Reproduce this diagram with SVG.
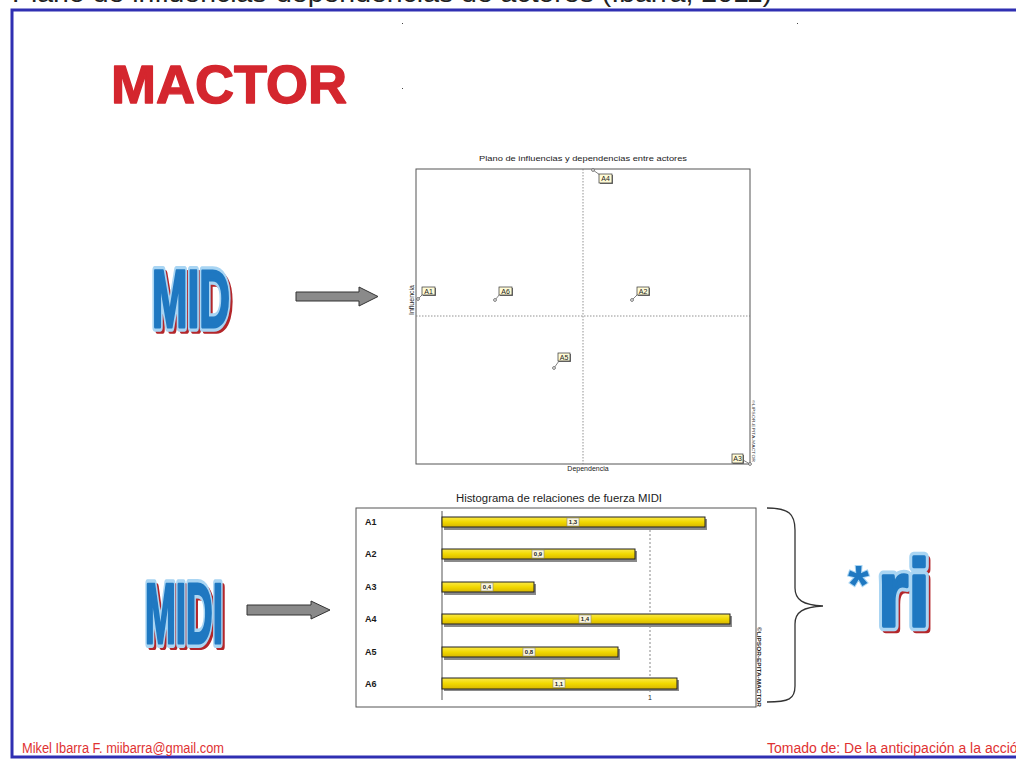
<svg xmlns="http://www.w3.org/2000/svg" xmlns:xlink="http://www.w3.org/1999/xlink" width="1016" height="761" viewBox="0 0 1016 761">
  <style>
    .sans { font-family: "Liberation Sans", Arial, sans-serif; }
    .narrow { font-family: "Liberation Sans Narrow", "Liberation Sans", Arial, sans-serif; }
    .frame { fill: none; stroke: #2f2fb2; stroke-width: 3; }
    .title-red { fill: #d4262e; stroke: #d4262e; stroke-width: 1.4; stroke-linejoin: round; font-weight: bold; }
    .shade { fill: #b3262a; stroke: #b3262a; stroke-width: 4; stroke-linejoin: round; }
    .rim { fill: #a9d5f3; stroke: #a9d5f3; stroke-width: 5; stroke-linejoin: round; }
    .face { fill: #1f78c1; stroke: #1f78c1; stroke-width: 1.6; stroke-linejoin: round; }
    .arrow { fill: #8a8a8a; stroke: #333; stroke-width: 1; }
    .plot-frame { fill: none; stroke: #555; stroke-width: 1; }
    .dotted { stroke: #777; stroke-width: 0.8; stroke-dasharray: 1.5 1.5; fill: none; }
    .tiny { font-size: 7px; fill: #222; }
    .tag { fill: #fffbd6; stroke: #333; stroke-width: 0.7; }
    .tag-shadow { fill: #777; }
    .lead { stroke: #666; stroke-width: 0.8; fill: none; }
    .pt { fill: #fff; stroke: #555; stroke-width: 0.8; }
    .bar { fill: url(#barFill); stroke: #222; stroke-width: 1; }
    .bar-shadow { fill: #8a8a8a; }
    .val { fill: #fbf6dc; stroke: #888; stroke-width: 0.6; }
    .val-text { font-size: 6px; fill: #222; font-weight: bold; }
    .row { font-size: 9px; fill: #1a1a1a; font-weight: bold; }
    .foot { fill: #e03232; font-size: 14px; }
  </style>
  <defs>
    <linearGradient id="barFill" x1="0" y1="0" x2="0" y2="1">
      <stop offset="0" stop-color="#fbe94a"/>
      <stop offset="0.5" stop-color="#f1d800"/>
      <stop offset="1" stop-color="#d8b600"/>
    </linearGradient>
    <text id="word-mid" class="sans" font-weight="bold" font-size="44" x="0" y="0" textLength="78" lengthAdjust="spacingAndGlyphs">MID</text>
    <text id="word-midi" class="sans" font-weight="bold" font-size="44" x="0" y="0" textLength="78" lengthAdjust="spacingAndGlyphs">MIDI</text>
    <text id="word-ri" class="sans" font-weight="bold" font-size="44" x="0" y="0" textLength="52" lengthAdjust="spacingAndGlyphs">ri</text>
  </defs>

  <rect width="1016" height="761" fill="#ffffff"/>

  <!-- caption running off the top edge -->
  <text class="sans" x="12" y="2" font-size="26" fill="#222" textLength="760" lengthAdjust="spacingAndGlyphs">Plano de influencias-dependencias de actores (Ibarra, 2011)</text>

  <!-- slide frame -->
  <rect class="frame" x="12" y="10" width="1020" height="747"/>

  <!-- stray specks -->
  <rect x="402" y="23" width="1" height="1" fill="#444"/>
  <rect x="797" y="23" width="1" height="1" fill="#444"/>
  <rect x="402" y="88" width="1" height="1" fill="#444"/>

  <!-- heading -->
  <text class="sans title-red" x="111" y="102.5" font-size="53" textLength="236" lengthAdjust="spacingAndGlyphs">MACTOR</text>

  <!-- MID -->
  <g id="mid-label">
    <use xlink:href="#word-mid" class="shade" transform="translate(154.5,330) scale(1,1.85)"/>
    <use xlink:href="#word-mid" class="rim" transform="translate(152,327) scale(1,1.85)"/>
    <use xlink:href="#word-mid" class="face" transform="translate(152,327) scale(1,1.85)"/>
  </g>

  <!-- MIDI -->
  <g id="midi-label">
    <use xlink:href="#word-midi" class="shade" transform="translate(147.5,646) scale(1,1.95)"/>
    <use xlink:href="#word-midi" class="rim" transform="translate(145,643) scale(1,1.95)"/>
    <use xlink:href="#word-midi" class="face" transform="translate(145,643) scale(1,1.95)"/>
  </g>

  <!-- *ri -->
  <g id="ri-label">
    <use xlink:href="#word-ri" class="shade" transform="translate(880.5,629) scale(1,2.15)"/>
    <use xlink:href="#word-ri" class="rim" transform="translate(878,626) scale(1,2.15)"/>
    <use xlink:href="#word-ri" class="face" transform="translate(878,626) scale(1,2.15)"/>
    <text class="sans" x="848" y="603" font-size="54" font-weight="bold" fill="#1f78c1" stroke="#a9d5f3" stroke-width="2" paint-order="stroke">*</text>
  </g>

  <!-- connectors -->
  <g id="connectors">
    <path class="arrow" d="M296,292 L359,292 L359,287 L378,296.5 L359,306 L359,301 L296,301 Z"/>
    <path class="arrow" d="M247,605 L311,605 L311,601 L330,610 L311,619 L311,615 L247,615 Z"/>
    <path d="M767,508 C789,508 795,514 795,530 L795,588 C795,600 803,605 823,606 C803,607 795,612 795,624 L795,686 C795,699 789,702 767,702" fill="none" stroke="#333" stroke-width="1.3"/>
  </g>

  <!-- influence / dependence plane -->
  <g id="plane-chart">
    <text class="sans" x="583" y="161" font-size="8" fill="#222" text-anchor="middle" textLength="208" lengthAdjust="spacingAndGlyphs">Plano de influencias y dependencias entre actores</text>
    <rect class="plot-frame" x="416" y="169" width="334" height="295"/>
    <line class="dotted" x1="583" y1="169" x2="583" y2="464"/>
    <line class="dotted" x1="416" y1="316" x2="750" y2="316"/>
    <text class="sans tiny" transform="translate(414,300) rotate(-90)" text-anchor="middle" font-size="6.5">Influencia</text>
    <text class="sans tiny" x="588" y="471" text-anchor="middle" font-size="6.5">Dependencia</text>
    <text class="sans" transform="translate(752,400) rotate(90)" font-size="4.2" fill="#333" textLength="62" lengthAdjust="spacingAndGlyphs">©LIPSOR-EPITA-MACTOR</text>
  </g>

  <g id="actor-A4">
    <line class="lead" x1="593" y1="170" x2="600" y2="175"/>
    <circle class="pt" cx="593" cy="170" r="1.4"/>
    <rect class="tag-shadow" x="600" y="175" width="13" height="9"/>
    <rect class="tag" x="599" y="174" width="13" height="9"/>
    <text class="sans tiny" x="605.5" y="181.2" text-anchor="middle">A4</text>
  </g>
  <g id="actor-A1">
    <line class="lead" x1="418" y1="299" x2="423" y2="294"/>
    <circle class="pt" cx="418" cy="299" r="1.4"/>
    <rect class="tag-shadow" x="423" y="288" width="13" height="8"/>
    <rect class="tag" x="422" y="287" width="13" height="8"/>
    <text class="sans tiny" x="428.5" y="293.6" text-anchor="middle">A1</text>
  </g>
  <g id="actor-A6">
    <line class="lead" x1="495" y1="300" x2="500" y2="294"/>
    <circle class="pt" cx="495" cy="300" r="1.4"/>
    <rect class="tag-shadow" x="500" y="288" width="13" height="8"/>
    <rect class="tag" x="499" y="287" width="13" height="8"/>
    <text class="sans tiny" x="505.5" y="293.6" text-anchor="middle">A6</text>
  </g>
  <g id="actor-A2">
    <line class="lead" x1="632" y1="300" x2="638" y2="294"/>
    <circle class="pt" cx="632" cy="300" r="1.4"/>
    <rect class="tag-shadow" x="638" y="288" width="12" height="8"/>
    <rect class="tag" x="637" y="287" width="12" height="8"/>
    <text class="sans tiny" x="643" y="293.6" text-anchor="middle">A2</text>
  </g>
  <g id="actor-A5">
    <line class="lead" x1="554" y1="368" x2="559" y2="361"/>
    <circle class="pt" cx="554" cy="368" r="1.4"/>
    <rect class="tag-shadow" x="559" y="354" width="12" height="8"/>
    <rect class="tag" x="558" y="353" width="12" height="8"/>
    <text class="sans tiny" x="564" y="359.6" text-anchor="middle">A5</text>
  </g>
  <g id="actor-A3">
    <line class="lead" x1="750" y1="464" x2="743" y2="460"/>
    <circle class="pt" cx="750" cy="464" r="1.4"/>
    <rect class="tag-shadow" x="733" y="455" width="11" height="9"/>
    <rect class="tag" x="732" y="454" width="11" height="9"/>
    <text class="sans tiny" x="737.5" y="461.2" text-anchor="middle">A3</text>
  </g>

  <!-- MIDI force histogram -->
  <g id="histogram">
    <text class="sans" x="559" y="502" font-size="10" fill="#222" text-anchor="middle" textLength="206" lengthAdjust="spacingAndGlyphs">Histograma de relaciones de fuerza MIDI</text>
    <rect class="plot-frame" x="356" y="508" width="400" height="199"/>
    <line x1="442" y1="511" x2="442" y2="700" stroke="#555" stroke-width="1"/>
    <line x1="650" y1="530" x2="650" y2="694" stroke="#888" stroke-width="1" stroke-dasharray="2 2"/>
    <text class="sans" x="650" y="700" font-size="7" fill="#222" text-anchor="middle">1</text>
    <text class="sans" transform="translate(757,627) rotate(90)" font-size="5" font-weight="bold" fill="#222" textLength="80" lengthAdjust="spacingAndGlyphs">©LIPSOR-EPITA-MACTOR</text>
  </g>

  <g id="bar-A1">
    <text class="sans row" x="365" y="525" font-weight="normal">A1</text>
    <rect class="bar-shadow" x="444" y="519" width="263" height="11"/>
    <rect class="bar" x="442" y="517" width="263" height="10"/>
    <rect class="val" x="567" y="518" width="12" height="8"/>
    <text class="sans val-text" x="573" y="524" text-anchor="middle">1,3</text>
  </g>
  <g id="bar-A2">
    <text class="sans row" x="365" y="557">A2</text>
    <rect class="bar-shadow" x="444" y="551" width="193" height="11"/>
    <rect class="bar" x="442" y="549" width="193" height="10"/>
    <rect class="val" x="532" y="550" width="12" height="8"/>
    <text class="sans val-text" x="538" y="556" text-anchor="middle">0,9</text>
  </g>
  <g id="bar-A3">
    <text class="sans row" x="365" y="590">A3</text>
    <rect class="bar-shadow" x="444" y="584" width="92" height="11"/>
    <rect class="bar" x="442" y="582" width="92" height="10"/>
    <rect class="val" x="481" y="583" width="12" height="8"/>
    <text class="sans val-text" x="487" y="589" text-anchor="middle">0,4</text>
  </g>
  <g id="bar-A4">
    <text class="sans row" x="365" y="622">A4</text>
    <rect class="bar-shadow" x="444" y="616" width="288" height="11"/>
    <rect class="bar" x="442" y="614" width="288" height="10"/>
    <rect class="val" x="579" y="615" width="12" height="8"/>
    <text class="sans val-text" x="585" y="621" text-anchor="middle">1,4</text>
  </g>
  <g id="bar-A5">
    <text class="sans row" x="365" y="655">A5</text>
    <rect class="bar-shadow" x="444" y="649" width="176" height="11"/>
    <rect class="bar" x="442" y="647" width="176" height="10"/>
    <rect class="val" x="523" y="648" width="12" height="8"/>
    <text class="sans val-text" x="529" y="654" text-anchor="middle">0,8</text>
  </g>
  <g id="bar-A6">
    <text class="sans row" x="365" y="687">A6</text>
    <rect class="bar-shadow" x="444" y="680" width="235" height="11"/>
    <rect class="bar" x="442" y="678" width="235" height="11"/>
    <rect class="val" x="553" y="679.5" width="12" height="8"/>
    <text class="sans val-text" x="559" y="685.5" text-anchor="middle">1,1</text>
  </g>

  <!-- footer -->
  <text class="narrow foot" x="22" y="753" font-size="12" textLength="202" lengthAdjust="spacingAndGlyphs">Mikel Ibarra F. miibarra@gmail.com</text>
  <text class="narrow foot" x="767" y="753">Tomado de: De la anticipación a la acción</text>
</svg>
